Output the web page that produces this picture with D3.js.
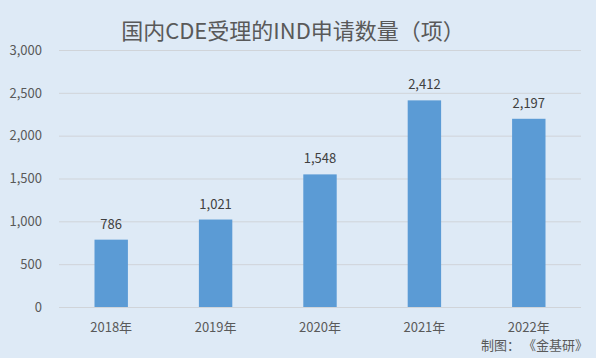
<!DOCTYPE html>
<html><head><meta charset="utf-8">
<script src="https://cdn.jsdelivr.net/npm/d3@7/dist/d3.min.js"></script>
<style>body{margin:0;background:#deeaf6;}svg{display:block;}</style>
</head><body>
<svg id="c" width="596" height="358"></svg>
<script>
const categories = ["2018年","2019年","2020年","2021年","2022年"];
const values = [786, 1021, 1548, 2412, 2197];
const yTicks = [0, 500, 1000, 1500, 2000, 2500, 3000];
const title = "国内CDE受理的IND申请数量（项）";
const source = "制图： 《金基研》";

const svg = d3.select("#c");
const font = "'Noto Sans CJK SC','Noto Sans',sans-serif";
const txt = "#595959";
svg.append("rect").attr("width",596).attr("height",358).attr("fill","#deeaf6");

const x = d3.scaleBand().domain(categories).range([59,581]).paddingInner(0.68).paddingOuter(0.34);
const y = d3.scaleLinear().domain([0,3000]).range([307,50]);

svg.append("text").attr("x",293).attr("y",39).attr("text-anchor","middle")
  .attr("font-family",font).attr("font-size",22).attr("fill",txt).text(title);

const yAxis = d3.axisLeft(y).tickValues(yTicks).tickSize(-(581-59)).tickFormat(d3.format(","));
const gy = svg.append("g").attr("transform","translate(59,0)").call(yAxis);
gy.select(".domain").remove();
gy.selectAll(".tick line").attr("stroke","#d0d4d9").attr("stroke-width",1);
gy.selectAll(".tick text").attr("x",-17).attr("font-family",font).attr("font-size",13).attr("fill",txt);

svg.selectAll(".bar").data(values).join("rect").attr("class","bar")
  .attr("x",(d,i)=>x(categories[i])).attr("width",x.bandwidth())
  .attr("y",d=>y(d)).attr("height",d=>y(0)-y(d)).attr("fill","#5b9bd5");

svg.selectAll(".lbl").data(values).join("text").attr("class","lbl")
  .attr("x",(d,i)=>x(categories[i])+x.bandwidth()/2).attr("y",d=>y(d)-11)
  .attr("text-anchor","middle").attr("font-family",font).attr("font-size",13).attr("fill","#404040")
  .text(d=>d3.format(",")(d));

const xAxis = d3.axisBottom(x).tickSize(0);
const gx = svg.append("g").attr("transform","translate(0,307)").call(xAxis);
gx.select(".domain").remove();
gx.selectAll(".tick text").attr("dy",0).attr("y",25).attr("font-family",font).attr("font-size",13).attr("fill",txt);

svg.append("text").attr("x",588).attr("y",350).attr("text-anchor","end")
  .attr("font-family",font).attr("font-size",13).attr("fill",txt).text(source);
</script>
</body></html>
